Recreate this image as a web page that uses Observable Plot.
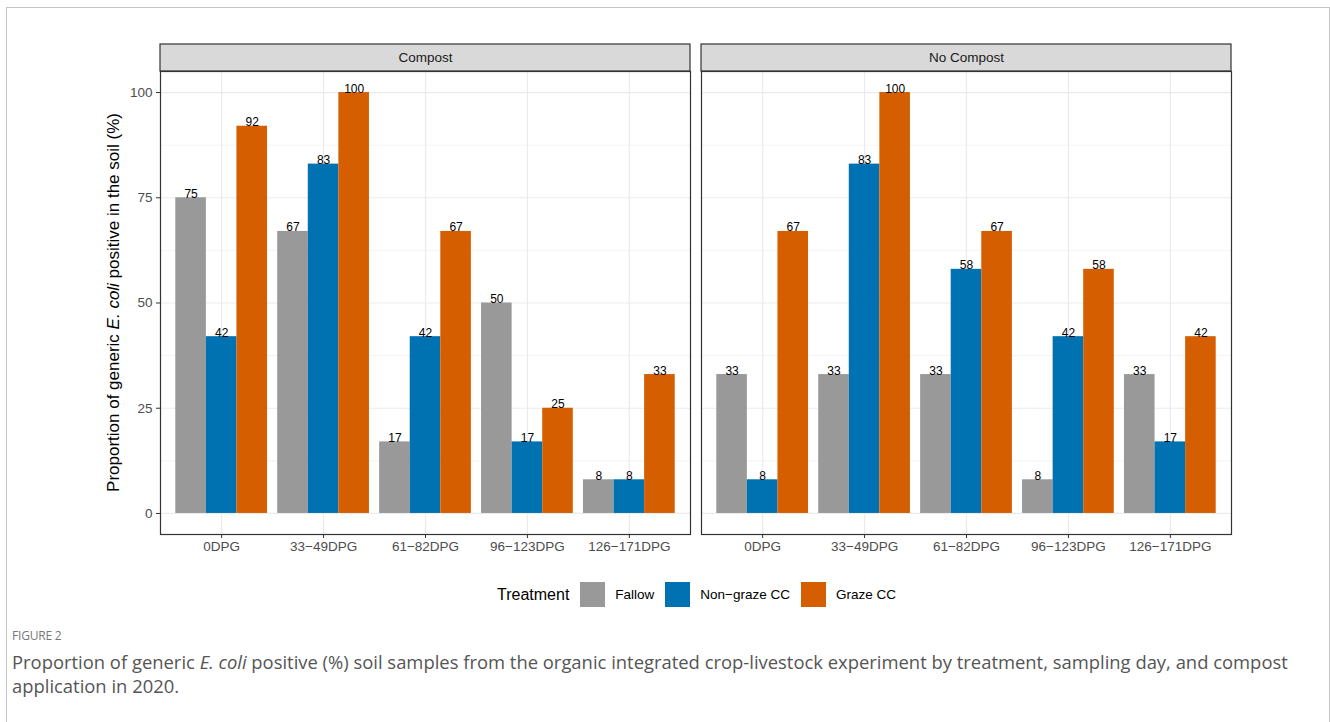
<!DOCTYPE html>
<html>
<head>
<meta charset="utf-8">
<script src="https://cdn.jsdelivr.net/npm/d3@7"></script>
<script src="https://cdn.jsdelivr.net/npm/@observablehq/plot@0.6"></script>
<style>
  body { margin: 0; background: #fff; width: 1330px; height: 722px; overflow: hidden; position: relative; font-family: "Liberation Sans", Arial, sans-serif; }
  #border { position: absolute; left: 6px; top: 7px; width: 1324px; height: 760px; border: 1px solid #c4c4c4; box-sizing: border-box; }
  #chart { position: absolute; left: 0; top: 0; }
  #legend { position: absolute; left: 497px; top: 582px; height: 25px; display: flex; align-items: center; }
  #legend .ltitle { font-size: 16px; color: #000; margin-right: 11px; }
  #legend .lg { margin: 0 !important; }
  #legend .lg-swatches-wrap, #legend .lg-swatches { min-height: 25px !important; margin: 0 !important; }
  #legend .lg-swatch > svg { margin-right: 10px !important; }
  #legend .lg-swatch { margin-right: 11px !important; }
  #fig { position: absolute; left: 12px; top: 628px; font-family: "Open Sans", Lato, sans-serif; font-size: 12px; letter-spacing: -0.2px; line-height: 16px; color: #777; }
  #cap { position: absolute; left: 12px; top: 650px; font-family: "Open Sans", Lato, sans-serif; font-size: 17px; line-height: 24px; color: #555; white-space: nowrap; }
</style>
</head>
<body>
<div id="border"></div>
<div id="chart"></div>
<div id="legend"></div>
<div id="fig">FIGURE 2</div>
<div id="cap"><span id="cap1">Proportion of generic <i>E. coli</i> positive (%) soil samples from the organic integrated crop-livestock experiment by treatment, sampling day, and compost</span><br>application in 2020.</div>
<script>
// ---- data ----
const panels = ["Compost", "No Compost"];
const categories = ["0DPG", "33\u221249DPG", "61\u221282DPG", "96\u2212123DPG", "126\u2212171DPG"];
const treatments = ["Fallow", "Non\u2212graze CC", "Graze CC"];
const compostFallow = [75, 67, 17, 50, 8];
const compostNonGraze = [42, 83, 42, 17, 8];
const compostGraze = [92, 100, 67, 25, 33];
const noCompostFallow = [33, 33, 33, 8, 33];
const noCompostNonGraze = [8, 83, 58, 42, 17];
const noCompostGraze = [67, 100, 67, 58, 42];
const yTicks = [0, 25, 50, 75, 100];
const yMinorTicks = [12.5, 37.5, 62.5, 87.5];
const yTitleParts = ["Proportion of generic ", "E. coli", " positive in the soil (%)"];
const legendTitle = "Treatment";
const treatmentColors = ["#999999", "#0072B2", "#D55E00"];

const series = [
  [panels[0], treatments[0], compostFallow],
  [panels[0], treatments[1], compostNonGraze],
  [panels[0], treatments[2], compostGraze],
  [panels[1], treatments[0], noCompostFallow],
  [panels[1], treatments[1], noCompostNonGraze],
  [panels[1], treatments[2], noCompostGraze]
];
const rows = series.flatMap(([panel, treatment, values]) =>
  values.map((value, i) => ({panel, treatment, category: categories[i], value})));

// ---- layout ----
const W = 1330, H = 560, mL = 160, mR = 99, mT = 71, mB = 26, gap = 11, stripH = 27;
const plotW = W - mL - mR;
const panelW = (plotW - gap) / 2;
const fxPad = gap / (panelW + gap);
const xPadInner = 0.1, xPadOuter = 0.15;
const xBand = d3.scaleBand(categories, [0, panelW]).paddingInner(xPadInner).paddingOuter(xPadOuter);
const third = xBand.bandwidth() / 3;

const gridColor = "#ebebeb";

const strip = Plot.frame({
  render: (index, scales, values, dims) => {
    const x0 = dims.marginLeft, x1 = dims.width - dims.marginRight;
    return d3.create("svg:rect")
      .attr("x", x0).attr("y", dims.marginTop - stripH)
      .attr("width", x1 - x0).attr("height", stripH)
      .attr("fill", "#d9d9d9").attr("stroke", "#333").attr("stroke-width", 1.2)
      .node();
  }
});

const bars = treatments.map((t, j) => Plot.barY(rows.filter(d => d.treatment === t), {
  fx: "panel", x: "category", y: "value", fill: "treatment",
  insetLeft: j * third, insetRight: (2 - j) * third
}));
const labels = treatments.map((t, j) => Plot.text(rows.filter(d => d.treatment === t), {
  fx: "panel", x: "category", y: "value", text: d => String(d.value),
  dx: (j - 1) * third, lineAnchor: "bottom", fontSize: 12, fill: "#000"
}));

const chart = Plot.plot({
  width: W, height: H,
  marginLeft: mL, marginRight: mR, marginTop: mT, marginBottom: mB,
  style: {fontFamily: '"Liberation Sans", Arial, sans-serif', fontSize: "13px", background: "transparent", overflow: "visible"},
  fx: {domain: panels, paddingInner: fxPad, paddingOuter: 0, round: false, axis: null, label: null},
  x: {domain: categories, paddingInner: xPadInner, paddingOuter: xPadOuter, round: false, label: null},
  y: {domain: [-5, 105], label: null},
  color: {domain: treatments, range: treatmentColors},
  marks: [
    Plot.gridY(yMinorTicks, {stroke: gridColor, strokeOpacity: 1, strokeWidth: 0.6}),
    Plot.gridY(yTicks, {stroke: gridColor, strokeOpacity: 1, strokeWidth: 1.2}),
    Plot.gridX({stroke: gridColor, strokeOpacity: 1, strokeWidth: 1.2}),
    ...bars,
    ...labels,
    strip,
    Plot.text(panels, {fx: d => d, text: d => d, frameAnchor: "top", dy: -stripH / 2, lineAnchor: "middle", fontSize: 13.5, fill: "#1a1a1a"}),
    Plot.frame({stroke: "#333", strokeWidth: 1.2}),
    Plot.axisY(yTicks, {tickSize: 4, tickPadding: 4, fontSize: 13.5, stroke: "#333", fill: "#4d4d4d", label: null}),
    Plot.axisX({tickSize: 4, tickPadding: 3, fontSize: 13.5, stroke: "#333", fill: "#4d4d4d", label: null})
  ]
});
document.getElementById("chart").append(chart);

// y axis title with italic species name
const yt = d3.select(chart).append("text")
  .attr("transform", `translate(113,${(mT + H - mB) / 2}) rotate(-90)`)
  .attr("text-anchor", "middle").attr("dominant-baseline", "central")
  .attr("font-size", 17).attr("fill", "#000");
yTitleParts.forEach((p, i) => yt.append("tspan").attr("font-style", i === 1 ? "italic" : null).text(p));

// legend
const legend = document.getElementById("legend");
const lt = document.createElement("span");
lt.className = "ltitle";
lt.textContent = legendTitle;
legend.append(lt);
legend.append(chart.legend("color", {
  legend: "swatches", swatchSize: 25, className: "lg",
  style: {fontSize: "13.5px", fontFamily: '"Liberation Sans", Arial, sans-serif', color: "#000"}
}));

// fit caption's first line to the figure width
const cap = document.getElementById("cap");
const w1 = document.getElementById("cap1").getBoundingClientRect().width;
const fs = Math.max(15, Math.min(19, 17 * 1277 / w1));
cap.style.fontSize = fs + "px";
</script>
</body>
</html>
